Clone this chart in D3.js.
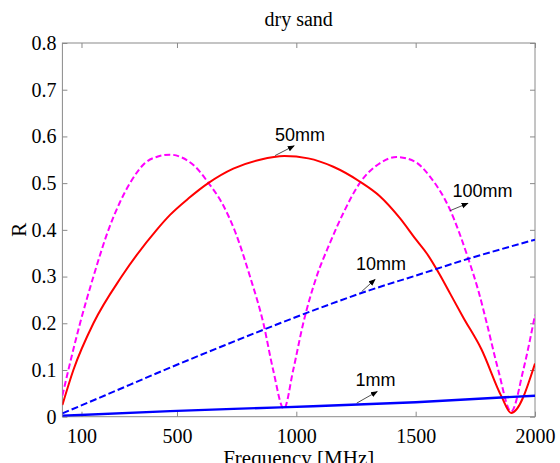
<!DOCTYPE html>
<html><head><meta charset="utf-8">
<script src="https://cdn.jsdelivr.net/npm/d3@7"></script>
<style>
html,body{margin:0;padding:0;background:#fff;overflow:hidden;}
svg{display:block;}
</style></head>
<body>
<script>
// ---- data (frequency MHz, R) ----
const title = "dry sand";
const xLabel = "Frequency [MHz]";
const yLabel = "R";
const xTicks = [100, 500, 1000, 1500, 2000];
const yTicks = [0, 0.1, 0.2, 0.3, 0.4, 0.5, 0.6, 0.7, 0.8];

const r1mm = [[20,0.002],[471,0.012],[932,0.02],[1500,0.031],[2000,0.045]];
const r10mm = [[20,0.007],[200,0.046],[471,0.105],[700,0.153],[931,0.2],[1100,0.233],[1309,0.271],[1500,0.302],[1720,0.338],[1895,0.364],[2000,0.379]];
const r50mm = [[20,0.025],[66,0.1],[150,0.2],[268,0.3],[415,0.4],[471,0.432],[550,0.468],[631,0.5],[736,0.531],[848,0.55],[950,0.558],[1050,0.553],[1155,0.535],[1267,0.503],[1350,0.472],[1434,0.425],[1500,0.38],[1546,0.35],[1600,0.305],[1644,0.264],[1700,0.212],[1775,0.145],[1860,0.043],[1900,0.008],[2000,0.114]];
const r100mm = [[20,0.045],[45,0.1],[94,0.2],[150,0.3],[213,0.4],[260,0.458],[303,0.5],[366,0.543],[420,0.557],[471,0.561],[520,0.555],[575,0.536],[631,0.501],[690,0.456],[743,0.397],[806,0.3],[862,0.2],[903,0.1],[948,0.017],[987,0.1],[1029,0.2],[1085,0.3],[1141,0.372],[1197,0.436],[1267,0.501],[1351,0.543],[1420,0.556],[1497,0.546],[1560,0.514],[1644,0.443],[1720,0.339],[1762,0.271],[1798,0.2],[1846,0.1],[1900,0.011],[1951,0.1],[2000,0.218]];

const seriesNames = ["1mm", "10mm", "50mm", "100mm"];
const seriesData = [r1mm, r10mm, r50mm, r100mm];
const seriesColors = ["#0000ff", "#0000ff", "#ff0000", "#ff00ff"];
const seriesDash = [null, "7,3", null, "6,3"];
const seriesWidth = [2.4, 2, 2, 2];

// annotations: label anchor [f, R], arrow tail [f, R], arrow head [f, R]
const annLabels = ["50mm", "100mm", "10mm", "1mm"];
const annText = [[1015,0.591],[1780,0.471],[1355,0.313],[1332,0.066]];
const annTail = [[911,0.559],[1644,0.441],[1274,0.268],[1253,0.029]];
const annHead = [[991,0.580],[1719,0.457],[1330,0.294],[1339,0.054]];

// ---- layout ----
const W = 560, H = 463;
const m = {left: 62.4, right: 25, top: 43, bottom: 46.3};
const svg = d3.select("body").append("svg").attr("width", W).attr("height", H);

const x = d3.scaleLinear().domain([20, 2000]).range([m.left, W - m.right]);
const y = d3.scaleLinear().domain([0, 0.8]).range([H - m.bottom, m.top]);

const serif = "Liberation Serif, Times New Roman, serif";
const sans = "Liberation Sans, Arial, sans-serif";
const axisColor = "#8a8a8a";

svg.append("defs").append("clipPath").attr("id", "clip")
  .append("rect").attr("x", x.range()[0]).attr("y", y.range()[1])
  .attr("width", x.range()[1] - x.range()[0]).attr("height", y.range()[0] - y.range()[1]);

// box
svg.append("rect").attr("x", x.range()[0]).attr("y", y.range()[1])
  .attr("width", x.range()[1] - x.range()[0]).attr("height", y.range()[0] - y.range()[1])
  .attr("fill", "none").attr("stroke", axisColor).attr("stroke-width", 1);

const fmtY = d => d === 0 ? "0" : d3.format(".1f")(d);

function styleAxis(g, showText) {
  g.attr("font-family", serif).attr("font-size", 20);
  g.select(".domain").remove();
  g.selectAll(".tick line").attr("stroke", axisColor);
  g.selectAll(".tick text").attr("fill", "#000").attr("font-family", serif).attr("font-size", 20);
  if (!showText) g.selectAll(".tick text").remove();
}

svg.append("g").attr("transform", `translate(0,${y.range()[0]})`)
  .call(d3.axisBottom(x).tickValues(xTicks).tickSizeInner(-5).tickSizeOuter(0).tickPadding(12).tickFormat(d3.format("d")))
  .call(g => styleAxis(g, true));
svg.append("g").attr("transform", `translate(0,${y.range()[1]})`)
  .call(d3.axisTop(x).tickValues(xTicks).tickSizeInner(-5).tickSizeOuter(0))
  .call(g => styleAxis(g, false));
svg.append("g").attr("transform", `translate(${x.range()[0]},0)`)
  .call(d3.axisLeft(y).tickValues(yTicks).tickSizeInner(-5).tickSizeOuter(0).tickPadding(6).tickFormat(fmtY))
  .call(g => styleAxis(g, true));
svg.append("g").attr("transform", `translate(${x.range()[1]},0)`)
  .call(d3.axisRight(y).tickValues(yTicks).tickSizeInner(-5).tickSizeOuter(0))
  .call(g => styleAxis(g, false));

// series
const line = d3.line().x(d => x(d[0])).y(d => y(d[1])).curve(d3.curveMonotoneX);
const plot = svg.append("g").attr("clip-path", "url(#clip)");
[3, 2, 1, 0].forEach(i => {
  plot.append("path").datum(seriesData[i])
    .attr("d", line)
    .attr("fill", "none")
    .attr("stroke", seriesColors[i])
    .attr("stroke-width", seriesWidth[i])
    .attr("stroke-dasharray", seriesDash[i])
    .attr("stroke-linejoin", "round");
});

// annotations
svg.select("defs").append("marker").attr("id", "arrow")
  .attr("viewBox", "0 0 10 10").attr("refX", 9).attr("refY", 5)
  .attr("markerWidth", 7).attr("markerHeight", 7).attr("markerUnits", "userSpaceOnUse")
  .attr("orient", "auto")
  .append("path").attr("d", "M0,1 L10,5 L0,9 Z").attr("fill", "#000");

annLabels.forEach((t, i) => {
  svg.append("line")
    .attr("x1", x(annTail[i][0])).attr("y1", y(annTail[i][1]))
    .attr("x2", x(annHead[i][0])).attr("y2", y(annHead[i][1]))
    .attr("stroke", "#222").attr("stroke-width", 0.8)
    .attr("marker-end", "url(#arrow)");
  svg.append("text").attr("x", x(annText[i][0])).attr("y", y(annText[i][1]))
    .attr("text-anchor", "middle")
    .attr("font-family", sans).attr("font-size", 18).attr("fill", "#000")
    .text(t);
});

// titles
svg.append("text").attr("x", (x.range()[0] + x.range()[1]) / 2).attr("y", 26)
  .attr("text-anchor", "middle").attr("font-family", serif).attr("font-size", 20).text(title);
svg.append("text").attr("x", (x.range()[0] + x.range()[1]) / 2).attr("y", 465)
  .attr("text-anchor", "middle").attr("font-family", serif).attr("font-size", 21).text(xLabel);
svg.append("text").attr("transform", `translate(26,${(y.range()[0] + y.range()[1]) / 2}) rotate(-90)`)
  .attr("text-anchor", "middle").attr("font-family", serif).attr("font-size", 21).text(yLabel);
</script>
</body></html>
